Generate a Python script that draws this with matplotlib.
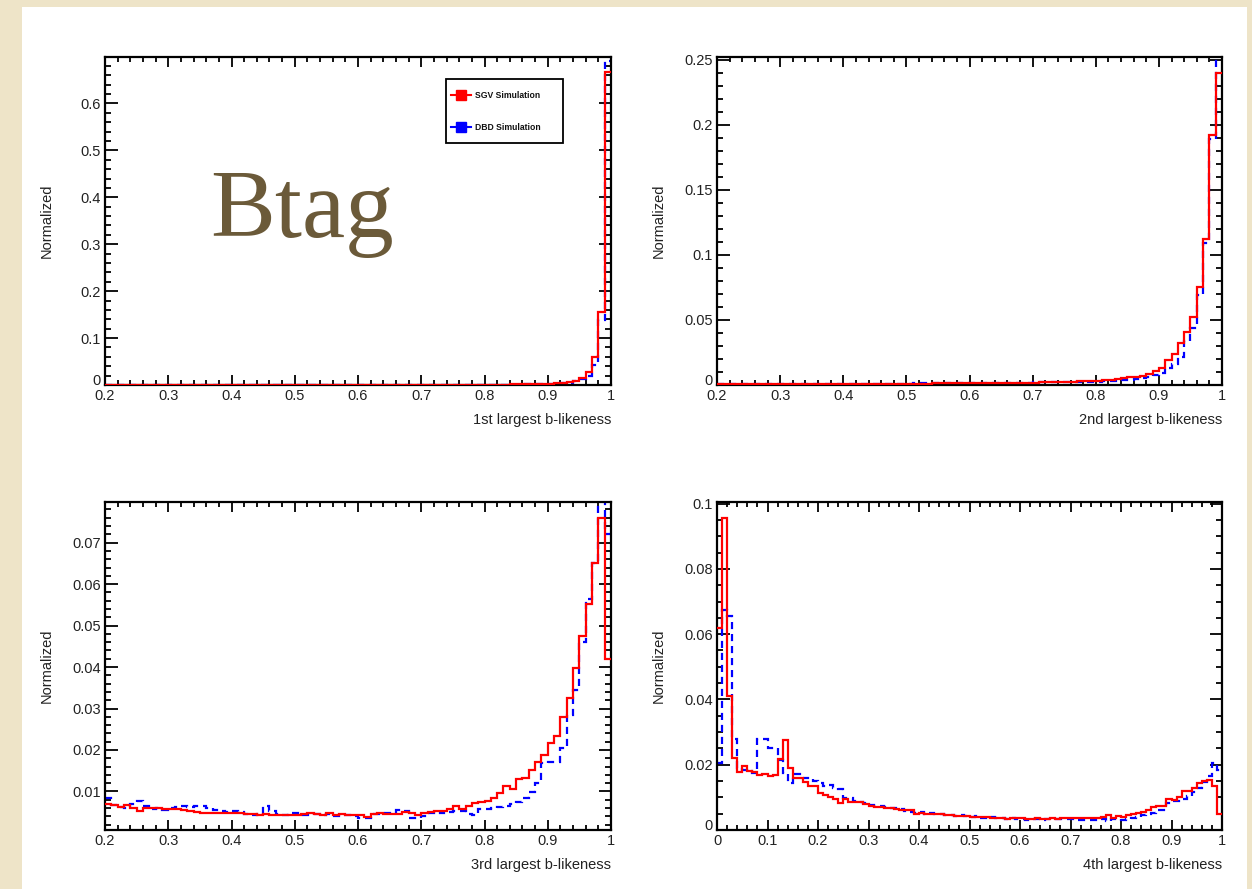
import numpy as np
import matplotlib
matplotlib.use("Agg")
import matplotlib.pyplot as plt
from matplotlib.patches import Rectangle
from matplotlib.lines import Line2D
from matplotlib.ticker import MultipleLocator, FuncFormatter

plt.rcParams['font.family'] = ['Liberation Sans', 'DejaVu Sans']

# ---------------- data (bin width 0.01) ----------------
edges_02 = np.round(np.arange(0.20, 1.0001, 0.01), 2)   # 0.2 .. 1.0
edges_00 = np.round(np.arange(0.00, 1.0001, 0.01), 2)   # 0.0 .. 1.0

titles = ["1st largest b-likeness", "2nd largest b-likeness",
          "3rd largest b-likeness", "4th largest b-likeness"]
series_names = ["SGV Simulation", "DBD Simulation"]

sgv_1st = [0.0001, 0.0001, 0.0001, 0.0001, 0.0001, 0.0001, 0.0001, 0.0001, 0.0001, 0.0001,
           0.0001, 0.0001, 0.0001, 0.0001, 0.0001, 0.0001, 0.0001, 0.0001, 0.0001, 0.0001,
           0.0001, 0.0001, 0.0001, 0.0001, 0.0002, 0.0002, 0.0002, 0.0002, 0.0002, 0.0002,
           0.0002, 0.0002, 0.0002, 0.0002, 0.0002, 0.0002, 0.0003, 0.0003, 0.0003, 0.0003,
           0.0003, 0.0003, 0.0003, 0.0003, 0.0003, 0.0004, 0.0004, 0.0004, 0.0004, 0.0004,
           0.0004, 0.0004, 0.0005, 0.0005, 0.0005, 0.0005, 0.0006, 0.0006, 0.0006, 0.0007,
           0.0007, 0.0008, 0.0009, 0.0010, 0.0011, 0.0013, 0.0015, 0.0018, 0.0021, 0.0025,
           0.0030, 0.0038, 0.0048, 0.0065, 0.0095, 0.0150, 0.0280, 0.0600, 0.1560, 0.6670]
dbd_1st = [0.0001, 0.0001, 0.0001, 0.0001, 0.0001, 0.0001, 0.0001, 0.0001, 0.0001, 0.0001,
           0.0001, 0.0001, 0.0001, 0.0001, 0.0001, 0.0001, 0.0001, 0.0001, 0.0001, 0.0001,
           0.0001, 0.0001, 0.0001, 0.0001, 0.0001, 0.0001, 0.0001, 0.0002, 0.0002, 0.0002,
           0.0002, 0.0002, 0.0002, 0.0002, 0.0002, 0.0002, 0.0002, 0.0002, 0.0002, 0.0003,
           0.0003, 0.0003, 0.0003, 0.0003, 0.0003, 0.0003, 0.0003, 0.0003, 0.0004, 0.0004,
           0.0004, 0.0004, 0.0004, 0.0004, 0.0005, 0.0005, 0.0005, 0.0005, 0.0006, 0.0006,
           0.0006, 0.0007, 0.0007, 0.0008, 0.0009, 0.0010, 0.0011, 0.0013, 0.0015, 0.0018,
           0.0022, 0.0028, 0.0036, 0.0050, 0.0075, 0.0120, 0.0200, 0.0420, 0.1390, 0.6900]

sgv_2nd = [0.0008, 0.0007, 0.0007, 0.0006, 0.0007, 0.0006, 0.0007, 0.0006, 0.0006, 0.0007,
           0.0007, 0.0007, 0.0006, 0.0007, 0.0007, 0.0008, 0.0007, 0.0008, 0.0008, 0.0008,
           0.0008, 0.0009, 0.0008, 0.0009, 0.0009, 0.0009, 0.0010, 0.0009, 0.0010, 0.0010,
           0.0010, 0.0011, 0.0011, 0.0011, 0.0012, 0.0012, 0.0012, 0.0013, 0.0013, 0.0013,
           0.0014, 0.0014, 0.0015, 0.0015, 0.0016, 0.0016, 0.0017, 0.0017, 0.0018, 0.0019,
           0.0019, 0.0020, 0.0021, 0.0022, 0.0023, 0.0024, 0.0025, 0.0027, 0.0028, 0.0030,
           0.0032, 0.0035, 0.0040, 0.0045, 0.0052, 0.0058, 0.0065, 0.0072, 0.0085, 0.0107,
           0.0127, 0.0190, 0.0240, 0.0320, 0.0405, 0.0520, 0.0750, 0.1120, 0.1920, 0.2400]
dbd_2nd = [0.0010, 0.0008, 0.0008, 0.0007, 0.0008, 0.0007, 0.0008, 0.0007, 0.0007, 0.0008,
           0.0008, 0.0008, 0.0007, 0.0008, 0.0008, 0.0009, 0.0008, 0.0008, 0.0009, 0.0009,
           0.0009, 0.0009, 0.0009, 0.0010, 0.0009, 0.0010, 0.0010, 0.0010, 0.0011, 0.0011,
           0.0011, 0.0012, 0.0012, 0.0012, 0.0012, 0.0013, 0.0013, 0.0013, 0.0014, 0.0014,
           0.0014, 0.0015, 0.0015, 0.0016, 0.0016, 0.0017, 0.0017, 0.0018, 0.0018, 0.0019,
           0.0020, 0.0021, 0.0022, 0.0022, 0.0023, 0.0023, 0.0024, 0.0024, 0.0025, 0.0025,
           0.0026, 0.0028, 0.0030, 0.0033, 0.0036, 0.0040, 0.0045, 0.0050, 0.0058, 0.0075,
           0.0095, 0.0127, 0.0160, 0.0217, 0.0340, 0.0440, 0.0690, 0.1090, 0.1890, 0.2630]

sgv_3rd = [0.0069, 0.0068, 0.0063, 0.0068, 0.0060, 0.0052, 0.0061, 0.0060, 0.0059, 0.0058,
           0.0057, 0.0057, 0.0056, 0.0053, 0.0050, 0.0049, 0.0048, 0.0048, 0.0049, 0.0047,
           0.0049, 0.0048, 0.0046, 0.0045, 0.0042, 0.0046, 0.0042, 0.0043, 0.0042, 0.0043,
           0.0043, 0.0045, 0.0047, 0.0045, 0.0042, 0.0047, 0.0044, 0.0046, 0.0043, 0.0044,
           0.0043, 0.0038, 0.0045, 0.0047, 0.0046, 0.0046, 0.0045, 0.0050, 0.0048, 0.0044,
           0.0048, 0.0051, 0.0052, 0.0054, 0.0058, 0.0064, 0.0058, 0.0065, 0.0071, 0.0074,
           0.0077, 0.0085, 0.0097, 0.0113, 0.0105, 0.0130, 0.0132, 0.0152, 0.0172, 0.0187,
           0.0217, 0.0233, 0.0280, 0.0325, 0.0398, 0.0474, 0.0553, 0.0650, 0.0760, 0.0420]
dbd_3rd = [0.0085, 0.0068, 0.0062, 0.0060, 0.0070, 0.0078, 0.0064, 0.0058, 0.0060, 0.0056,
           0.0060, 0.0062, 0.0064, 0.0062, 0.0066, 0.0064, 0.0060, 0.0055, 0.0053, 0.0050,
           0.0052, 0.0050, 0.0046, 0.0044, 0.0046, 0.0066, 0.0052, 0.0045, 0.0042, 0.0048,
           0.0047, 0.0044, 0.0042, 0.0046, 0.0043, 0.0045, 0.0041, 0.0044, 0.0042, 0.0040,
           0.0035, 0.0036, 0.0045, 0.0046, 0.0047, 0.0048, 0.0055, 0.0052, 0.0035, 0.0035,
           0.0040, 0.0048, 0.0050, 0.0048, 0.0050, 0.0052, 0.0054, 0.0045, 0.0043, 0.0058,
           0.0058, 0.0060, 0.0063, 0.0066, 0.0070, 0.0075, 0.0085, 0.0098, 0.0120, 0.0168,
           0.0170, 0.0172, 0.0205, 0.0285, 0.0345, 0.0460, 0.0565, 0.0650, 0.0840, 0.0720]

sgv_4th = [0.0620, 0.0957, 0.0410, 0.0220, 0.0178, 0.0195, 0.0182, 0.0178, 0.0168, 0.0172,
           0.0166, 0.0170, 0.0218, 0.0275, 0.0190, 0.0160, 0.0160, 0.0146, 0.0135, 0.0135,
           0.0112, 0.0108, 0.0102, 0.0094, 0.0082, 0.0095, 0.0085, 0.0085, 0.0085, 0.0080,
           0.0075, 0.0072, 0.0070, 0.0068, 0.0066, 0.0063, 0.0062, 0.0060, 0.0062, 0.0050,
           0.0052, 0.0050, 0.0050, 0.0050, 0.0048, 0.0045, 0.0047, 0.0044, 0.0044, 0.0042,
           0.0040, 0.0041, 0.0039, 0.0040, 0.0038, 0.0038, 0.0036, 0.0035, 0.0037, 0.0036,
           0.0036, 0.0034, 0.0035, 0.0036, 0.0034, 0.0035, 0.0036, 0.0035, 0.0036, 0.0036,
           0.0036, 0.0036, 0.0036, 0.0036, 0.0037, 0.0037, 0.0040, 0.0045, 0.0038, 0.0043,
           0.0040, 0.0045, 0.0050, 0.0052, 0.0055, 0.0062, 0.0072, 0.0073, 0.0073, 0.0094,
           0.0092, 0.0100, 0.0118, 0.0118, 0.0128, 0.0145, 0.0150, 0.0154, 0.0135, 0.0050]
dbd_4th = [0.0205, 0.0675, 0.0656, 0.0280, 0.0190, 0.0185, 0.0180, 0.0175, 0.0278, 0.0278,
           0.0252, 0.0252, 0.0215, 0.0175, 0.0145, 0.0172, 0.0172, 0.0160, 0.0158, 0.0150,
           0.0145, 0.0135, 0.0138, 0.0128, 0.0126, 0.0098, 0.0098, 0.0088, 0.0085, 0.0082,
           0.0078, 0.0075, 0.0073, 0.0070, 0.0068, 0.0066, 0.0063, 0.0058, 0.0055, 0.0052,
           0.0055, 0.0050, 0.0052, 0.0048, 0.0050, 0.0046, 0.0045, 0.0043, 0.0045, 0.0042,
           0.0040, 0.0042, 0.0036, 0.0038, 0.0040, 0.0038, 0.0037, 0.0035, 0.0036, 0.0034,
           0.0034, 0.0032, 0.0034, 0.0033, 0.0032, 0.0033, 0.0034, 0.0034, 0.0033, 0.0034,
           0.0034, 0.0032, 0.0030, 0.0031, 0.0030, 0.0031, 0.0033, 0.0028, 0.0034, 0.0035,
           0.0030, 0.0033, 0.0036, 0.0040, 0.0045, 0.0048, 0.0052, 0.0060, 0.0062, 0.0082,
           0.0088, 0.0090, 0.0095, 0.0105, 0.0115, 0.0128, 0.0148, 0.0165, 0.0205, 0.0185]

panels = [
    dict(edges=edges_02, sgv=sgv_1st, dbd=dbd_1st, xlim=(0.2, 1.0), ylim=(0.0, 0.699),
         ymaj=0.1, ymin_sub=0.02, xmaj=0.1, xmin_sub=0.02),
    dict(edges=edges_02, sgv=sgv_2nd, dbd=dbd_2nd, xlim=(0.2, 1.0), ylim=(0.0, 0.252),
         ymaj=0.05, ymin_sub=0.01, xmaj=0.1, xmin_sub=0.02),
    dict(edges=edges_02, sgv=sgv_3rd, dbd=dbd_3rd, xlim=(0.2, 1.0), ylim=(0.0007, 0.0798),
         ymaj=0.01, ymin_sub=0.002, xmaj=0.1, xmin_sub=0.02),
    dict(edges=edges_00, sgv=sgv_4th, dbd=dbd_4th, xlim=(0.0, 1.0), ylim=(0.0, 0.1005),
         ymaj=0.02, ymin_sub=0.005, xmaj=0.1, xmin_sub=0.02),
]

W, H = 1252, 889
fig = plt.figure(figsize=(W / 100, H / 100), dpi=100)
fig.patch.set_facecolor('#eee4c8')
fig.add_artist(Rectangle((22 / W, 0), (1247 - 22) / W, (H - 7) / H,
                         transform=fig.transFigure, facecolor='white',
                         edgecolor='none', zorder=0))

# axes boxes in pixels: left, top, right, bottom
boxes = [(105, 57, 611, 385), (717, 57, 1222, 385),
         (105, 502, 611, 830), (717, 502, 1222, 830)]

fmt = FuncFormatter(lambda v, p: f"{round(v, 4):g}")
RED = '#ff0000'
BLUE = '#0000ff'

axes = []
for i, (pan, (l, t, r, b)) in enumerate(zip(panels, boxes)):
    ax = fig.add_axes([l / W, (H - b) / H, (r - l) / W, (b - t) / H])
    ax.set_facecolor('none')
    ax.stairs(pan['sgv'], pan['edges'], color=RED, lw=1.6, baseline=None, zorder=3)
    ax.stairs(pan['dbd'], pan['edges'], color=BLUE, lw=1.6, baseline=None,
              linestyle=(0, (3.2, 2.2)), zorder=2)
    ax.set_xlim(*pan['xlim'])
    ax.set_ylim(*pan['ylim'])
    ax.xaxis.set_major_locator(MultipleLocator(pan['xmaj']))
    ax.xaxis.set_minor_locator(MultipleLocator(pan['xmin_sub']))
    ax.yaxis.set_major_locator(MultipleLocator(pan['ymaj']))
    ax.yaxis.set_minor_locator(MultipleLocator(pan['ymin_sub']))
    ax.xaxis.set_major_formatter(fmt)
    ax.yaxis.set_major_formatter(fmt)
    for s in ax.spines.values():
        s.set_linewidth(1.6)
    ax.tick_params(axis='both', which='both', direction='in', top=True, right=True,
                   colors='black', labelcolor='#222222', labelsize=10.5, width=1.3)
    ax.tick_params(axis='x', which='major', length=7.5, pad=3)
    ax.tick_params(axis='x', which='minor', length=3.8)
    ax.tick_params(axis='y', which='major', length=9, pad=3)
    ax.tick_params(axis='y', which='minor', length=4.5)
    hpx = b - t
    wpx = r - l
    ax.text(1.0, -35 / hpx, titles[i], transform=ax.transAxes, ha='right',
            va='center', fontsize=10.5, color='#222222')
    ax.text(-58 / wpx, 0.5, "Normalized", transform=ax.transAxes, rotation=90,
            ha='center', va='center', fontsize=10.5, color='#222222')
    axes.append(ax)

# the "0" y label sits just above the x labels at the corner, as in the ROOT original
fig.canvas.draw()
for ax in axes:
    for lab in ax.get_yticklabels():
        if lab.get_text() == '0':
            lab.set_verticalalignment('baseline')

# legend in first panel (drawn in axes coordinates)
ax = axes[0]
l, t, r, b = boxes[0]
wpx, hpx = r - l, b - t
def ax_xy(px, py):
    return ((px - l) / wpx, (b - py) / hpx)
x0, y0 = ax_xy(446, 143)
x1, y1 = ax_xy(563, 79)
ax.add_patch(Rectangle((x0, y0), x1 - x0, y1 - y0, transform=ax.transAxes,
                       facecolor='white', edgecolor='black', lw=1.3, zorder=5))
for name, col, py in [(series_names[0], RED, 95), (series_names[1], BLUE, 127)]:
    lx0, ly = ax_xy(451, py)
    lx1, _ = ax_xy(471, py)
    mx, _ = ax_xy(461, py)
    tx, _ = ax_xy(475, py)
    ax.add_line(Line2D([lx0, lx1], [ly, ly], transform=ax.transAxes, color=col,
                       lw=1.5, zorder=6))
    ax.add_line(Line2D([mx], [ly], transform=ax.transAxes, color=col, marker='s',
                       markersize=6.5, zorder=6))
    ax.text(tx, ly, name, transform=ax.transAxes, ha='left', va='center',
            fontsize=6.2, fontweight='bold', color='#111111', zorder=6)

# big title
fig.text(210 / W, 1 - 237 / H, "Btag", fontsize=70, color='#6b5a39',
         family=['Liberation Serif', 'DejaVu Serif'], ha='left', va='baseline')

fig.savefig("out.png", dpi=100, facecolor=fig.get_facecolor())
